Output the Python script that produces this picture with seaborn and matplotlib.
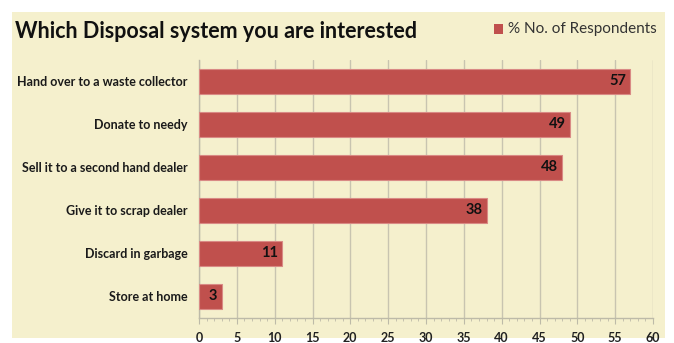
import matplotlib
matplotlib.use("Agg")
import matplotlib.pyplot as plt
from matplotlib.patches import Rectangle
import seaborn as sns
import pandas as pd

categories = [
    "Hand over to a waste collector",
    "Donate to needy",
    "Sell it to a second hand dealer",
    "Give it to scrap dealer",
    "Discard in garbage",
    "Store at home",
]
respondents = [57, 49, 48, 38, 11, 3]
x_ticks = list(range(0, 61, 5))
series_name = "% No. of Respondents"
title = "Which Disposal system you are interested"

bar_color = "#C0504D"
panel_color = "#F5F0CD"

sns.set_style("white")
plt.rcParams["font.family"] = ["Lato", "DejaVu Sans"]

df = pd.DataFrame({"option": categories, "value": respondents})

fig = plt.figure(figsize=(6.74, 3.43), dpi=100)
fig.patch.set_facecolor("white")
fig.patches.append(Rectangle((12 / 674, 1 - 338 / 343), (665 - 12) / 674, (338 - 12) / 343,
                             transform=fig.transFigure, facecolor=panel_color,
                             edgecolor="none", zorder=-10))

ax = fig.add_axes([199 / 674, 1 - 318 / 343, (653 - 199) / 674, (318 - 59.5) / 343])
ax.set_facecolor(panel_color)
ax.patch.set_alpha(0)

sns.barplot(data=df, y="option", x="value", orient="h", color=bar_color,
            width=0.58, edgecolor="#D98A85", linewidth=0.8, saturation=1, ax=ax, zorder=3)

# value labels right-aligned just inside the end of each bar
for i, v in enumerate(respondents):
    ax.annotate(str(v), xy=(v, i), xytext=(-3, 0), textcoords="offset points",
                ha="right", va="center", fontsize=10.5, fontweight="bold",
                color="#111111", zorder=5)

ax.set_xlim(0, 60)
ax.set_xticks(x_ticks)
ax.set_xticks(range(0, 61), minor=True)
ax.set_xlabel("")
ax.set_ylabel("")
ax.grid(axis="x", color="#C8C4B0", linewidth=1.0, zorder=0)
ax.set_axisbelow(True)
for side in ["top", "right"]:
    ax.spines[side].set_visible(False)
for side in ["left", "bottom"]:
    ax.spines[side].set_color("#BDBAA8")
    ax.spines[side].set_linewidth(1.0)
ax.tick_params(axis="x", which="major", length=4, color="#BDBAA8", labelsize=9, pad=6,
               bottom=True)
ax.tick_params(axis="x", which="minor", length=2, color="#BDBAA8", bottom=True)
ax.tick_params(axis="y", length=0, labelsize=9, pad=8)
for lbl in ax.get_xticklabels():
    lbl.set_fontweight("bold")
    lbl.set_color("#222222")
for lbl in ax.get_yticklabels():
    lbl.set_fontweight("bold")
    lbl.set_color("#1a1a1a")

fig.text(15 / 674, 1 - 31 / 343, title, fontsize=15.5, fontweight="bold",
         color="#111111", va="center", ha="left")
fig.patches.append(Rectangle((494 / 674, 1 - 34 / 343), 9 / 674, 10 / 343,
                             transform=fig.transFigure, facecolor=bar_color,
                             edgecolor="none"))
fig.text(508 / 674, 1 - 29 / 343, series_name, fontsize=11, color="#333333",
         va="center", ha="left")

fig.savefig("out.png", dpi=100)
